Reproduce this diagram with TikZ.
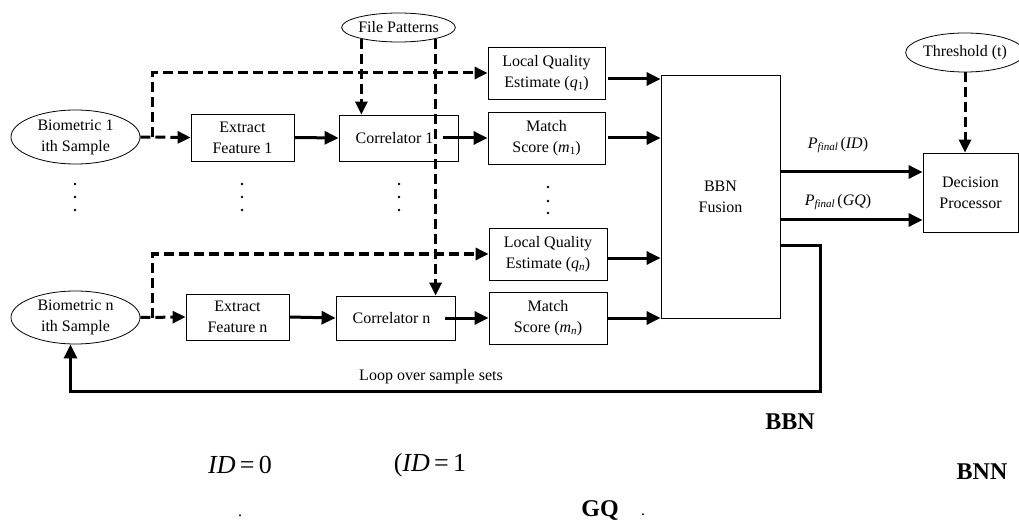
\documentclass[tikz,border=0pt]{standalone}
\usepackage{fontspec}
\setmainfont{Liberation Serif}
\usetikzlibrary{shapes.geometric,arrows.meta}
\newcommand{\subidx}[1]{\raisebox{-0.35ex}{\fontsize{11}{11}\selectfont #1}}
\begin{document}
\begin{tikzpicture}[x=1pt,y=-1pt,
  txt/.style={font=\fontsize{16}{21}\selectfont, align=center, inner sep=0pt},
  box/.style={txt, draw, line width=0.8pt},
  ell/.style={txt, draw, ellipse, line width=0.8pt},
  thk/.style={line width=3pt, -{Triangle[length=14pt,width=13pt]}},
  thkline/.style={line width=3pt},
  dsh/.style={line width=3pt, dash pattern=on 10pt off 5pt},
  dsharr/.style={dsh, -{Triangle[length=13pt,width=12pt]}},
  big/.style={font=\fontsize{24}{24}\selectfont\bfseries, inner sep=0pt},
  eq/.style={font=\fontsize{26}{26}\selectfont, inner sep=0pt},
  vdot/.style={fill, circle, inner sep=0pt, minimum size=2.6pt},
]
\useasboundingbox (0,0) rectangle (1019,529);

% nodes
\node[ell, minimum width=129pt, minimum height=54pt] (bio1) at (75.5,137) {Biometric 1\\ith Sample};
\node[box, minimum width=103pt, minimum height=47pt] (ext1) at (242.5,137.5) {Extract\\Feature 1};
\node[box, minimum width=119pt, minimum height=46pt] (cor1) at (398.5,138) {Correlator 1\hspace*{8pt}};
\node[ell, minimum width=107pt, minimum height=29pt] (fp) at (398.5,27.5) {File Patterns};
\node[box, minimum width=117pt, minimum height=52pt] (lqe1) at (546.5,73) {Local Quality\\Estimate (\textit{q}\subidx{1})};
\node[box, minimum width=117pt, minimum height=52pt] (ms1) at (546.5,138) {Match\\Score (\textit{m}\subidx{1})};
\node[box, minimum width=119pt, minimum height=243pt] (bbn) at (720.5,196.5) {BBN\\Fusion};
\node[box, minimum width=95pt, minimum height=79pt] (dp) at (970.5,192.5) {Decision\\Processor};
\node[ell, minimum width=106pt, minimum height=39pt] (th) at (965,52.5) {Threshold (t)};

\node[ell, minimum width=129pt, minimum height=53pt] (bion) at (75.5,317.5) {Biometric n\\ith Sample};
\node[box, minimum width=103pt, minimum height=46pt] (extn) at (237.5,317) {Extract\\Feature n};
\node[box, minimum width=119pt, minimum height=44pt] (corn) at (395.5,318) {Correlator n\hspace*{8pt}};
\node[box, minimum width=118pt, minimum height=52pt] (lqen) at (548,254) {Local Quality\\Estimate (\textit{q}\subidx{\textit{n}})};
\node[box, minimum width=118pt, minimum height=52pt] (msn) at (548,318) {Match\\Score (\textit{m}\subidx{\textit{n}})};

% labels
\node[txt] (pid) at (838,145) {\textit{P}\subidx{\textit{final}}\,(\textit{ID})};
\node[txt] (pgq) at (838,202) {\textit{P}\subidx{\textit{final}}\,(\textit{GQ})};
\node[txt] (loop) at (431,377) {Loop over sample sets};

% vertical dots
\foreach \x/\n in {75/a,242/b,399/c}{
  \node[vdot] (d\n1) at (\x,184) {};
  \node[vdot] (d\n2) at (\x,197) {};
  \node[vdot] (d\n3) at (\x,210) {};
}
\node[vdot] (dd1) at (548,187) {};
\node[vdot] (dd2) at (548,201) {};
\node[vdot] (dd3) at (548,213) {};

% dashed connectors, sample 1
\coordinate (j1) at (152,137);
\draw[dsharr] (bio1.east) -- (ext1.west);
\draw[dsharr] (j1) |- (lqe1.west);
% dashed connectors, sample n
\coordinate (jn) at (152,317.5);
\draw[dsharr] (bion.east) -- (extn.west);
\draw[dsharr] (jn) |- (lqen.west);
% file patterns
\draw[dsharr] (fp.197) -- (fp.197 |- cor1.north);
\draw[dsharr] (fp.343) -- (fp.343 |- corn.north);
% threshold
\draw[dsharr] (th.south) -- (th.south |- dp.north);

% solid connectors
\draw[thk] (ext1.east) -- (cor1.west);
\draw[thk] (extn.east) -- (corn.west);
\draw[thk] ([xshift=-15pt]cor1.east) -- (ms1.west);
\draw[thk] ([xshift=-10pt]corn.east) -- (msn.west);
\draw[thk] ([xshift=3pt,yshift=-6pt]lqe1.east) -- ([yshift=-6pt]lqe1.east -| bbn.west);
\draw[thk] ([xshift=3pt]ms1.east) -- (ms1.east -| bbn.west);
\draw[thk] ([xshift=1pt,yshift=-4pt]lqen.east) -- ([yshift=-4pt]lqen.east -| bbn.west);
\draw[thk] ([xshift=1pt]msn.east) -- (msn.east -| bbn.west);
\draw[thk] ([yshift=20.5pt]dp.west -| bbn.east) -- ([yshift=20.5pt]dp.west);
\draw[thk] ([yshift=-27.5pt]dp.west -| bbn.east) -- ([yshift=-27.5pt]dp.west);
% loop
\coordinate (lc) at (820,391);
\draw[thk] ([yshift=-49.5pt]bbn.east) -| (lc) -| ([xshift=-5pt]bion.south);

% residual text below
\node[big] (t1) at (790,422) {BBN};
\node[big] (t2) at (982,472) {BNN};
\node[big] (t3) at (600,510) {GQ};
\node[eq] (t4) at (240,465) {\textit{ID}\,=\,0};
\node[eq] (t5) at (430,465) {(\textit{ID}\,=\,1};
\node[txt] (t6) at (240,516) {.};
\node[txt] (t7) at (643,515) {.};
\end{tikzpicture}
\end{document}
